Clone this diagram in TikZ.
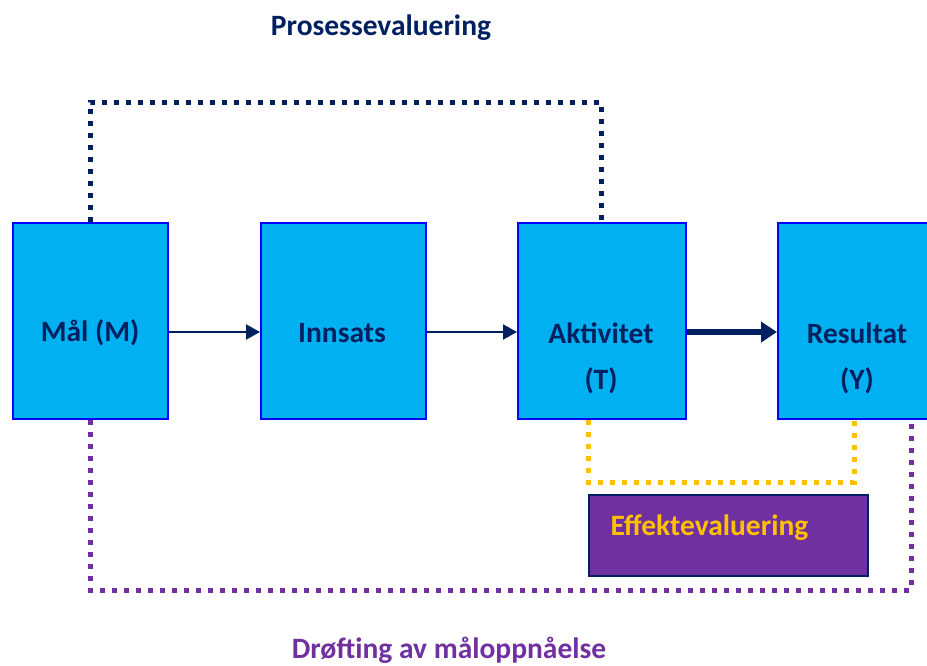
\documentclass[tikz,border=0pt]{standalone}
\usepackage{fontspec}
\setmainfont{Carlito}
\usetikzlibrary{arrows.meta}
\definecolor{navy}{HTML}{002060}
\definecolor{cyanfill}{HTML}{00B0F0}
\definecolor{purp}{HTML}{7030A0}
\definecolor{gold}{HTML}{FFC000}
\tikzset{
  block/.style={draw=blue, line width=2pt, fill=cyanfill, anchor=north west, inner sep=0pt},
  lbl/.style={text=navy, font=\fontsize{29.5}{34}\selectfont\bfseries},
  flow/.style={draw=navy, line width=2pt, -{Triangle[length=14pt,width=15pt]}},
  flowthick/.style={draw=navy, line width=6pt, -{Triangle[length=16pt,width=20pt]}},
  dots/.style={line width=5pt, dash pattern=on 5pt off 7pt},
}
\begin{document}
\begin{tikzpicture}[x=1pt,y=-1pt]
\useasboundingbox (0,0) rectangle (927,665);
% boxes
\node[block, minimum width=155pt, minimum height=196pt] (m) at (12,222) {};
\node[block, minimum width=165pt, minimum height=196pt] (inn) at (260,222) {};
\node[block, minimum width=168pt, minimum height=196pt] (akt) at (517,222) {};
\node[block, minimum width=153pt, minimum height=196pt] (res) at (777,222) {};
% labels
\node[lbl] (mt) at (90,333) {Mål (M)};
\node[lbl] (it) at (342,333) {Innsats};
\node[lbl] (at1) at (601,333) {Aktivitet};
\node[lbl] (at2) at (601,381) {(T)};
\node[lbl] (rt1) at (857,333) {Resultat};
\node[lbl] (rt2) at (857,381) {(Y)};
% arrows
\draw[flow] (m.east |- 0,332) -- (inn.west |- 0,332);
\draw[flow] (inn.east |- 0,332) -- (akt.west |- 0,332);
\draw[flowthick] (akt.east |- 0,332) -- (res.west |- 0,332);
% process evaluation loop
\coordinate (p1) at (90,102);
\coordinate (p2) at (601,102);
\draw[dots, navy] (m.north -| 90,0) -- (p1) -- (p2) -- (akt.north -| 601,0);
% effect loop
\coordinate (e1) at (588,482);
\coordinate (e2) at (854,482);
\draw[dots, gold] (akt.south -| 588,0) -- (e1) -- (e2) -- (res.south -| 854,0);
% goal attainment loop
\coordinate (g1) at (90,590);
\coordinate (g2) at (911,590);
\draw[dots, purp] (m.south -| 90,0) -- (g1) -- (g2) -- (res.south -| 911,0);
% effect box
\node[draw=navy, line width=1.5pt, fill=purp, anchor=north west, minimum width=279pt, minimum height=81pt, inner sep=0pt] (eff) at (588,494) {};
\node[text=gold, font=\fontsize{29.5}{34}\selectfont\bfseries, anchor=west] (efft) at (607,528) {Effektevaluering};
% titles
\node[lbl] (ptitle) at (381,28) {Prosessevaluering};
\node[text=purp, font=\fontsize{29.5}{34}\selectfont\bfseries] (dtitle) at (449,650) {Drøfting av måloppnåelse};
\end{tikzpicture}
\end{document}
